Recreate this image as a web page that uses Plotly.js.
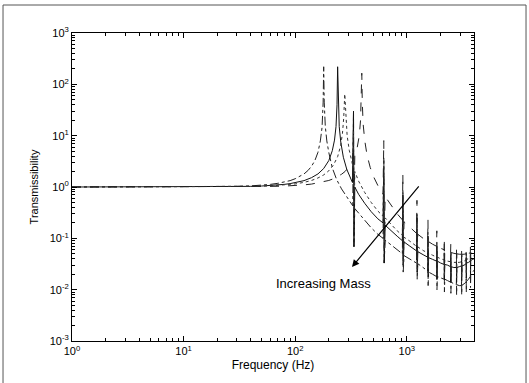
<!DOCTYPE html>
<html><head><meta charset="utf-8">
<script src="https://cdn.plot.ly/plotly-3.0.1.min.js"></script>
<style>html,body{margin:0;padding:0;background:#fff;}#chart{width:529px;height:383px;}</style>
</head><body><div id="chart"></div>
<script>
// Curve A (dash-dot), first resonance ~180 Hz
const freqA = [1,5,10,20,30,40,50,60,70,80,90,100,110,120,130,140,150,160,168,174,178,180,182,186,192,200,215,235,260,290,315,328,333,336,342,370,420,480,550,612,622,627,640,720,820,912,922,928,945,1050,1150,1222,1233,1239,1255,1400,1538,1548,1553,1568,1700,1848,1858,1863,1878,2010,2160,2168,2173,2188,2320,2468,2478,2483,2498,2640,2778,2788,2793,2808,2950,3088,3098,3103,3118,3260,3398,3408,3413,3428,3570,3708,3718,3723,3738,3900,4000];
const transA = [1,1.001,1.003,1.012,1.028,1.05,1.08,1.125,1.18,1.25,1.33,1.45,1.6,1.8,2.09,2.53,3.27,4.76,7.9,14.5,45,220,45,15.3,7.9,4.7,2.35,1.4,0.92,0.63,0.48,0.43,30,0.07,0.38,0.31,0.22,0.16,0.12,0.1,1.3,0.033,0.092,0.075,0.058,0.05,0.45,0.022,0.046,0.04,0.036,0.033,0.15,0.016,0.032,0.027,0.023,0.06,0.012,0.022,0.02,0.018,0.038,0.01,0.018,0.017,0.016,0.028,0.009,0.016,0.015,0.014,0.022,0.0085,0.014,0.013,0.0125,0.018,0.008,0.0125,0.012,0.012,0.016,0.008,0.0122,0.013,0.014,0.018,0.009,0.0145,0.016,0.018,0.024,0.011,0.019,0.022,0.024];

// Curve B (solid), first resonance ~240 Hz
const freqB = [1,10,20,30,40,50,60,70,80,90,100,120,140,160,180,200,215,225,232,237,240,243,248,256,270,290,315,326,333,336,342,370,420,480,550,612,622,627,640,720,820,912,922,928,945,1050,1150,1222,1233,1239,1255,1400,1538,1548,1553,1568,1700,1848,1858,1863,1878,2010,2160,2168,2173,2188,2320,2468,2478,2483,2498,2640,2778,2788,2793,2808,2950,3088,3098,3103,3118,3260,3398,3408,3413,3428,3570,3708,3718,3723,3738,3900,4000];
const transB = [1,1.002,1.007,1.016,1.029,1.045,1.067,1.093,1.125,1.164,1.21,1.33,1.52,1.8,2.29,3.27,5.1,8.2,15,40,220,40,15,7.5,3.8,2.2,1.4,1.22,30,0.068,1.0,0.72,0.48,0.33,0.24,0.2,2.5,0.033,0.18,0.14,0.11,0.09,0.7,0.03,0.085,0.072,0.062,0.057,0.25,0.022,0.055,0.048,0.043,0.11,0.018,0.042,0.039,0.036,0.07,0.016,0.036,0.033,0.031,0.052,0.015,0.031,0.03,0.028,0.042,0.014,0.028,0.027,0.027,0.038,0.014,0.027,0.028,0.029,0.038,0.015,0.029,0.03,0.032,0.042,0.017,0.033,0.034,0.036,0.048,0.02,0.037,0.039,0.04];

// Curve C (dotted), first resonance ~278 Hz
const freqC = [1,10,20,30,40,50,60,70,80,90,100,120,140,160,180,200,220,240,255,265,272,278,284,292,305,320,328,333,336,342,370,420,480,550,612,622,627,640,720,820,912,922,928,945,1050,1150,1222,1233,1239,1255,1400,1538,1548,1553,1568,1700,1848,1858,1863,1878,2010,2160,2168,2173,2188,2320,2468,2478,2483,2498,2640,2778,2788,2793,2808,2950,3088,3098,3103,3118,3260,3398,3408,3413,3428,3570,3708,3718,3723,3738,3900,4000];
const transC = [1,1.001,1.005,1.012,1.021,1.033,1.049,1.068,1.09,1.117,1.15,1.23,1.34,1.5,1.72,2.07,2.67,3.9,6.3,11,22,65,22,10,5.2,3.1,2.6,12,0.15,2.0,1.3,0.78,0.5,0.34,0.27,3.5,0.06,0.25,0.19,0.14,0.115,0.9,0.03,0.105,0.09,0.078,0.07,0.3,0.025,0.068,0.058,0.052,0.13,0.021,0.051,0.047,0.043,0.085,0.019,0.043,0.04,0.038,0.062,0.018,0.038,0.036,0.035,0.05,0.017,0.035,0.034,0.034,0.046,0.017,0.034,0.034,0.035,0.046,0.018,0.035,0.036,0.038,0.05,0.02,0.039,0.04,0.042,0.055,0.023,0.043,0.045,0.046];

// Curve D (dashed), first resonance ~395 Hz
const freqD = [1,10,20,30,40,50,60,70,80,90,100,120,140,160,180,200,220,240,260,280,300,315,326,333,336,342,360,375,385,391,395,399,406,420,440,470,510,560,612,622,627,640,720,820,912,922,928,945,1050,1150,1222,1233,1239,1255,1400,1538,1548,1553,1568,1700,1848,1858,1863,1878,2010,2160,2168,2173,2188,2320,2468,2478,2483,2498,2640,2778,2788,2793,2808,2950,3088,3098,3103,3118,3260,3398,3408,3413,3428,3570,3708,3718,3723,3738,3900,4000];
const transD = [1,1.0006,1.0026,1.006,1.01,1.016,1.024,1.032,1.043,1.055,1.068,1.1,1.14,1.2,1.26,1.34,1.45,1.58,1.77,2.01,2.36,2.75,3.1,9,0.5,4.0,6.0,10,20,45,165,45,17,8,4.2,2.4,1.5,0.99,0.72,8,0.1,0.65,0.44,0.3,0.23,1.8,0.045,0.21,0.17,0.14,0.125,0.55,0.035,0.12,0.1,0.088,0.23,0.028,0.086,0.077,0.07,0.14,0.025,0.069,0.064,0.06,0.1,0.024,0.059,0.056,0.053,0.078,0.022,0.053,0.051,0.05,0.068,0.022,0.05,0.049,0.049,0.064,0.022,0.049,0.049,0.05,0.065,0.024,0.05,0.051,0.052,0.068,0.026,0.052,0.053,0.054];

const xTickVals = [1, 10, 100, 1000];
const xTickText = ['10<sup>0</sup>','10<sup>1</sup>','10<sup>2</sup>','10<sup>3</sup>'];
const yTickVals = [1e-3, 1e-2, 1e-1, 1, 10, 100, 1000];
const yTickText = ['10<sup>-3</sup>','10<sup>-2</sup>','10<sup>-1</sup>','10<sup>0</sup>','10<sup>1</sup>','10<sup>2</sup>','10<sup>3</sup>'];

function minorVals(lo, hi) {
  const out = [];
  for (let e = lo; e < hi; e++) for (let m = 2; m <= 9; m++) out.push(m * Math.pow(10, e));
  return out;
}

const lineW = 1;
const traces = [
  {x: freqA, y: transA, mode: 'lines', line: {color: '#222', width: lineW, dash: 'dashdot'}},
  {x: freqB, y: transB, mode: 'lines', line: {color: '#111', width: lineW, dash: 'solid'}},
  {x: freqC, y: transC, mode: 'lines', line: {color: '#333', width: lineW, dash: 'dot'}},
  {x: freqD, y: transD, mode: 'lines', line: {color: '#222', width: lineW, dash: 'dash'}}
];

const fontFam = 'Liberation Sans, Arial, Helvetica, sans-serif';
const axisCommon = {
  type: 'log', showgrid: false, zeroline: false,
  showline: true, linecolor: '#000', linewidth: 1, mirror: 'ticks',
  ticks: 'inside', ticklen: 5, tickcolor: '#000', tickwidth: 1,
  tickmode: 'array',
  tickfont: {family: fontFam, size: 11, color: '#000'}
};

const layout = {
  width: 529, height: 383,
  margin: {l: 72, r: 55, t: 33, b: 42},
  paper_bgcolor: '#fff', plot_bgcolor: '#fff',
  showlegend: false,
  font: {family: fontFam, color: '#000'},
  xaxis: Object.assign({}, axisCommon, {
    range: [0, Math.log10(4000)],
    tickvals: xTickVals, ticktext: xTickText,
    minor: {tickmode: 'array', tickvals: minorVals(0, 4), ticks: 'inside', ticklen: 3, tickcolor: '#000', showgrid: false},
    title: {text: 'Frequency (Hz)', font: {family: fontFam, size: 12, color: '#000'}, standoff: 4}
  }),
  yaxis: Object.assign({}, axisCommon, {
    range: [-3, 3],
    tickvals: yTickVals, ticktext: yTickText,
    minor: {tickmode: 'array', tickvals: minorVals(-3, 3), ticks: 'inside', ticklen: 3, tickcolor: '#000', showgrid: false},
    title: {text: 'Transmissibility', font: {family: fontFam, size: 11, color: '#000'}, standoff: 8}
  }),
  shapes: [
    {type: 'rect', xref: 'paper', yref: 'paper', x0: -0.1716, x1: 1.1294, y0: -0.2, y1: 1.0909,
     line: {color: '#555', width: 1}, fillcolor: 'rgba(0,0,0,0)', layer: 'below'}
  ],
  annotations: [
    {xref: 'paper', yref: 'paper', x: 0.6965, y: 0.2403, ax: 68, ay: -82, text: '',
     showarrow: true, arrowhead: 2, arrowsize: 1.2, arrowwidth: 1.2, arrowcolor: '#000'},
    {xref: 'paper', yref: 'paper', x: 0.6244, y: 0.1558, text: 'Increasing Mass', showarrow: false,
     font: {family: fontFam, size: 13, color: '#000'}}
  ]
};

Plotly.newPlot('chart', traces, layout, {staticPlot: true, displayModeBar: false});
</script></body></html>
